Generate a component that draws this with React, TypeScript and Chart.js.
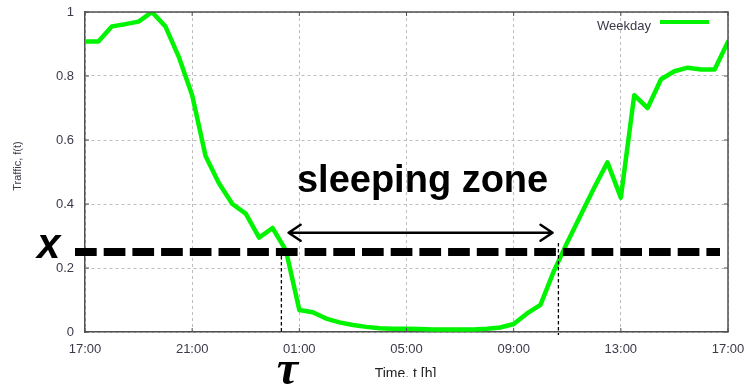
import React, { useEffect, useRef } from "react";
import { Chart, registerables } from "chart.js";

Chart.register(...registerables);

// ---- Data ----
const TIME_H: number[] = [
  0, 0.5, 1, 1.5, 2, 2.5, 3, 3.5, 4, 4.5, 5, 5.5, 6, 6.5, 7, 7.5, 8, 8.5, 9, 9.5,
  10, 10.5, 11, 11.5, 12, 12.5, 13, 13.5, 14, 14.5, 15, 15.5, 16, 16.5, 17, 17.5,
  18, 18.5, 19, 19.5, 20, 20.5, 21, 21.5, 22, 22.5, 23, 23.5, 24,
];
const WEEKDAY: number[] = [
  0.908, 0.908, 0.955, 0.962, 0.97, 1.0, 0.955, 0.86, 0.74, 0.55, 0.465, 0.4, 0.37,
  0.295, 0.325, 0.255, 0.069, 0.062, 0.042, 0.03, 0.022, 0.016, 0.012, 0.01, 0.01,
  0.009, 0.008, 0.008, 0.008, 0.008, 0.01, 0.014, 0.025, 0.058, 0.085, 0.19, 0.28,
  0.365, 0.45, 0.53, 0.42, 0.74, 0.7, 0.79, 0.815, 0.826, 0.82, 0.82, 0.907,
];
const X_TICK_VALUES: number[] = [0, 4, 8, 12, 16, 20, 24];
const X_TICK_LABELS: string[] = ["17:00", "21:00", "01:00", "05:00", "09:00", "13:00", "17:00"];
const Y_TICK_VALUES: number[] = [0, 0.2, 0.4, 0.6, 0.8, 1];
const SERIES_LABEL = "Weekday";
const X_TITLE = "Time, t [h]";
const Y_TITLE = "Traffic, f(t)";

// annotations (data units)
const THRESHOLD = 0.25;
const TAU_T = 7.33;
const WAKE_T = 17.67;
const ARROW_FROM = 7.6;
const ARROW_TO = 17.45;
const ARROW_Y = 0.31;
const ZONE_LABEL = "sleeping zone";
const ZONE_LABEL_T = 12.6;
const ZONE_LABEL_Y = 0.4375;

const GREEN = "#00f400";
const TEXT = "#3a3a4a";
const FRAME = "#505050";

const overlay = {
  id: "overlay",
  afterDraw(chart: any) {
    const { ctx, chartArea: a, scales } = chart;
    const xs = scales.x;
    const ys = scales.y;
    ctx.save();

    // frame top/right + inward ticks
    ctx.strokeStyle = FRAME;
    ctx.lineWidth = 1.5;
    ctx.setLineDash([]);
    ctx.beginPath();
    ctx.moveTo(a.left, a.top);
    ctx.lineTo(a.right, a.top);
    ctx.lineTo(a.right, a.bottom);
    ctx.stroke();
    ctx.lineWidth = 1;
    ctx.beginPath();
    X_TICK_VALUES.forEach((v) => {
      const px = xs.getPixelForValue(v);
      ctx.moveTo(px, a.top);
      ctx.lineTo(px, a.top + 4);
      ctx.moveTo(px, a.bottom);
      ctx.lineTo(px, a.bottom - 4);
    });
    Y_TICK_VALUES.forEach((v) => {
      const py = ys.getPixelForValue(v);
      ctx.moveTo(a.left, py);
      ctx.lineTo(a.left + 4, py);
      ctx.moveTo(a.right, py);
      ctx.lineTo(a.right - 4, py);
    });
    ctx.stroke();

    // legend
    ctx.fillStyle = TEXT;
    ctx.font = "13px 'Liberation Sans', Arial, sans-serif";
    ctx.textAlign = "right";
    ctx.textBaseline = "middle";
    ctx.fillText(SERIES_LABEL, a.right - 77, a.top + 14);
    ctx.strokeStyle = GREEN;
    ctx.lineWidth = 4;
    ctx.beginPath();
    ctx.moveTo(a.right - 68, a.top + 10);
    ctx.lineTo(a.right - 19, a.top + 10);
    ctx.stroke();

    // y title
    ctx.save();
    ctx.translate(18, (a.top + a.bottom) / 2 - 6);
    ctx.rotate(-Math.PI / 2);
    ctx.fillStyle = TEXT;
    ctx.font = "11px 'Liberation Sans', Arial, sans-serif";
    ctx.textAlign = "center";
    ctx.textBaseline = "middle";
    ctx.fillText(Y_TITLE, 0, 0);
    ctx.restore();

    // x title (lower part hidden as in reference)
    ctx.fillStyle = "#222";
    ctx.font = "14px 'Liberation Sans', Arial, sans-serif";
    ctx.textAlign = "center";
    ctx.textBaseline = "alphabetic";
    const xtc = (a.left + a.right) / 2 - 1;
    ctx.fillText(X_TITLE, xtc, 378);
    ctx.fillStyle = "#ffffff";
    ctx.fillRect(xtc - 50, 377, 100, 12);

    // thick dashed threshold
    const ty = ys.getPixelForValue(THRESHOLD);
    ctx.strokeStyle = "#000";
    ctx.lineWidth = 8;
    ctx.setLineDash([21.7, 7]);
    ctx.beginPath();
    ctx.moveTo(a.left - 10, ty);
    ctx.lineTo(a.right - 8, ty);
    ctx.stroke();

    // thin vertical dashed lines
    ctx.lineWidth = 1.3;
    ctx.setLineDash([3.5, 2.5]);
    const tx = xs.getPixelForValue(TAU_T);
    const wx = xs.getPixelForValue(WAKE_T);
    ctx.beginPath();
    ctx.moveTo(tx, ty + 4);
    ctx.lineTo(tx, a.bottom + 2);
    ctx.moveTo(wx, ty - 9);
    ctx.lineTo(wx, a.bottom + 3);
    ctx.stroke();
    ctx.setLineDash([]);

    // double arrow
    const ay = ys.getPixelForValue(ARROW_Y);
    const ax1 = xs.getPixelForValue(ARROW_FROM);
    const ax2 = xs.getPixelForValue(ARROW_TO);
    ctx.lineWidth = 2.5;
    ctx.lineCap = "round";
    ctx.lineJoin = "round";
    ctx.beginPath();
    ctx.moveTo(ax1, ay);
    ctx.lineTo(ax2, ay);
    ctx.moveTo(ax1 + 12, ay - 8);
    ctx.lineTo(ax1, ay);
    ctx.lineTo(ax1 + 12, ay + 8);
    ctx.moveTo(ax2 - 12, ay - 8);
    ctx.lineTo(ax2, ay);
    ctx.lineTo(ax2 - 12, ay + 8);
    ctx.stroke();

    // sleeping zone label
    ctx.fillStyle = "#000";
    ctx.font = "bold 38px 'Liberation Sans', Arial, sans-serif";
    ctx.textAlign = "center";
    ctx.textBaseline = "alphabetic";
    ctx.fillText(ZONE_LABEL, xs.getPixelForValue(ZONE_LABEL_T), ys.getPixelForValue(ZONE_LABEL_Y));

    // x label
    ctx.font = "italic bold 42px 'Liberation Sans', Arial, sans-serif";
    ctx.textAlign = "left";
    ctx.fillText("x", 37, ty + 6);

    // tau label
    ctx.font = "italic bold 48px 'Liberation Serif', 'DejaVu Serif', serif";
    ctx.textAlign = "center";
    ctx.fillText("\u03C4", tx + 6, 384);

    ctx.restore();
  },
};

export default function App() {
  const ref = useRef<HTMLCanvasElement | null>(null);
  useEffect(() => {
    if (!ref.current) return;
    const chart = new Chart(ref.current, {
      type: "line",
      data: {
        datasets: [
          {
            label: SERIES_LABEL,
            data: TIME_H.map((t, i) => ({ x: t, y: WEEKDAY[i] })),
            borderColor: GREEN,
            backgroundColor: GREEN,
            borderWidth: 4.5,
            pointRadius: 0,
            tension: 0,
            borderJoinStyle: "round",
            borderCapStyle: "round",
          },
        ],
      },
      options: {
        responsive: false,
        devicePixelRatio: 1,
        animation: false,
        layout: { padding: { left: 0, top: 12, right: 17, bottom: 0 } },
        plugins: { legend: { display: false }, tooltip: { enabled: false } },
        scales: {
          x: {
            type: "linear",
            min: 0,
            max: 24,
            afterFit: (s: any) => {
              s.height = 55;
              s.paddingLeft = 0;
              s.paddingRight = 0;
            },
            afterBuildTicks: (s: any) => {
              s.ticks = X_TICK_VALUES.map((v) => ({ value: v }));
            },
            ticks: {
              autoSkip: false,
              maxRotation: 0,
              padding: 10,
              color: TEXT,
              font: { family: "'Liberation Sans', Arial, sans-serif", size: 13 },
              callback: (v: any) => {
                const i = X_TICK_VALUES.indexOf(Number(v));
                return i >= 0 ? X_TICK_LABELS[i] : "";
              },
            },
            grid: { color: "#bdbdbd", lineWidth: 1, drawTicks: false },
            border: { display: true, color: FRAME, width: 1.5, dash: [3, 3] },
          },
          y: {
            min: 0,
            max: 1,
            afterFit: (s: any) => {
              s.width = 85;
              s.paddingTop = 0;
              s.paddingBottom = 0;
            },
            ticks: {
              stepSize: 0.2,
              padding: 11,
              color: TEXT,
              font: { family: "'Liberation Sans', Arial, sans-serif", size: 13 },
              callback: (v: any) => {
                const n = Number(v);
                if (Math.abs(n) < 1e-9) return "0";
                if (Math.abs(n - 1) < 1e-9) return "1";
                return n.toFixed(1);
              },
            },
            grid: { color: "#bdbdbd", lineWidth: 1, drawTicks: false },
            border: { display: true, color: FRAME, width: 1.5, dash: [3, 3] },
          },
        },
      },
      plugins: [overlay],
    } as any);
    return () => chart.destroy();
  }, []);
  return (
    <div style={{ position: "fixed", left: 0, top: 0, width: 745, height: 387, background: "#fff" }}>
      <canvas ref={ref} width={745} height={387} style={{ width: 745, height: 387, display: "block" }} />
    </div>
  );
}
